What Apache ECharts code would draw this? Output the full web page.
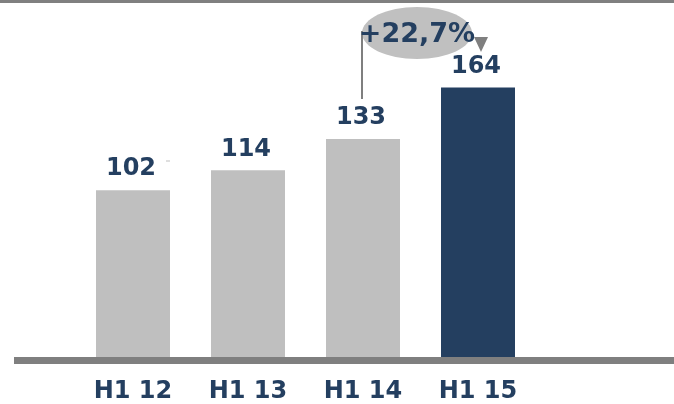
<!DOCTYPE html>
<html>
<head>
<meta charset="UTF-8">
<title>H1</title>
<script src="https://cdn.jsdelivr.net/npm/echarts@6/dist/echarts.min.js"></script>
<style>
  html, body { margin: 0; padding: 0; background: #fff; }
  #main { width: 674px; height: 404px; }
</style>
</head>
<body>
<div id="main"></div>
<script>
// data
var categories = ['H1 12', 'H1 13', 'H1 14', 'H1 15'];
var values = [102, 114, 133, 164];
var barColors = ['#bfbfbf', '#bfbfbf', '#bfbfbf', '#243f60'];
var growthText = '+22,7%';

var textColor = '#243f60';
var font = 'DejaVu Sans';

var chart = echarts.init(document.getElementById('main'));

// empty slot on the right keeps the bars where they are in the original
var cats = categories.concat(['']);
var seriesData = values.map(function (v, i) {
  return { value: v, itemStyle: { color: barColors[i] } };
});

chart.setOption({
  animation: false,
  grid: { left: 75.5, right: 23.5, top: 28, bottom: 42 },
  xAxis: {
    type: 'category',
    data: cats,
    axisLine: { show: false },
    axisTick: { show: false },
    axisLabel: {
      margin: 21,
      fontSize: 24,
      fontWeight: 'bold',
      fontFamily: font,
      color: textColor
    }
  },
  yAxis: {
    type: 'value',
    min: 0,
    max: 200,
    show: false,
    splitLine: { show: false }
  },
  series: [{
    type: 'bar',
    barWidth: 74,
    data: seriesData,
    label: {
      show: true,
      position: 'top',
      distance: 9,
      fontSize: 24,
      fontWeight: 'bold',
      fontFamily: font,
      color: textColor,
      offset: [-2, 0]
    }
  }]
});

// annotation: connector from bar 3 up to ellipse, arrow down to bar 4
var p3 = chart.convertToPixel({ seriesIndex: 0 }, [2, values[2]]);
var p4 = chart.convertToPixel({ seriesIndex: 0 }, [3, values[3]]);
var base = chart.convertToPixel({ seriesIndex: 0 }, [0, 0]);
var lineX = p3[0] - 1;
var arrowX = p4[0] + 3;

chart.setOption({
  graphic: [
    // top border
    { type: 'rect', shape: { x: 0, y: 0, width: 674, height: 3 }, style: { fill: '#808080' } },
    // baseline, drawn over the bar bottoms
    { type: 'rect', z: 20, shape: { x: 14, y: base[1] - 2, width: 660, height: 7 }, style: { fill: '#7f7f7f' } },
    // ellipse
    { type: 'ellipse', shape: { cx: 417, cy: 33, rx: 55, ry: 26 }, style: { fill: '#c0c0c0' } },
    // connector line
    { type: 'line', shape: { x1: lineX, y1: 31, x2: lineX, y2: p3[1] - 40 },
      style: { stroke: '#7f7f7f', lineWidth: 2 } },
    // arrow head
    { type: 'polygon', shape: { points: [[arrowX - 7, 37], [arrowX + 7, 37], [arrowX, 52]] },
      style: { fill: '#7f7f7f' } },
    // growth text
    { type: 'text', x: 417, y: 35, z: 10,
      style: { text: growthText, fontSize: 27, fontWeight: 'bold', fontFamily: font,
        fill: textColor, align: 'center', verticalAlign: 'middle' } },
    // small stray dashes from the original
    { type: 'line', shape: { x1: 166, y1: 161, x2: 170, y2: 161 }, style: { stroke: '#bfbfbf', lineWidth: 1 } },
    { type: 'line', shape: { x1: 480, y1: 156, x2: 484, y2: 156 }, style: { stroke: '#bfbfbf', lineWidth: 1 } }
  ]
});
</script>
</body>
</html>
